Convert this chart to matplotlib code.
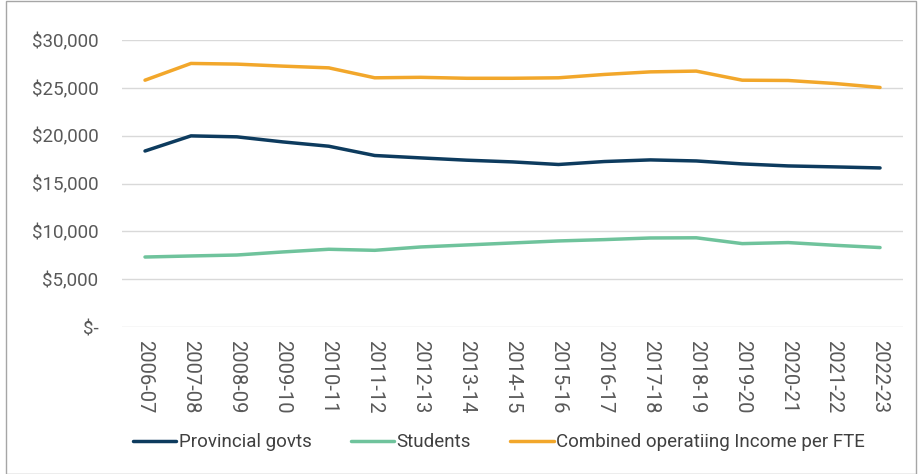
import matplotlib
matplotlib.use("Agg")
import matplotlib.pyplot as plt
from matplotlib.patches import Rectangle
from matplotlib.ticker import FuncFormatter

years = ["2006-07", "2007-08", "2008-09", "2009-10", "2010-11", "2011-12",
         "2012-13", "2013-14", "2014-15", "2015-16", "2016-17", "2017-18",
         "2018-19", "2019-20", "2020-21", "2021-22", "2022-23"]
provincial = [18400, 19980, 19880, 19350, 18900, 17930, 17680, 17440, 17260,
              16990, 17300, 17470, 17360, 17050, 16840, 16740, 16630]
students = [7320, 7430, 7530, 7850, 8130, 8020, 8370, 8580, 8790,
            9000, 9140, 9310, 9330, 8720, 8830, 8550, 8310]
combined = [25800, 27550, 27480, 27270, 27090, 26050, 26100, 26000, 26000,
            26050, 26400, 26670, 26750, 25800, 25770, 25460, 25040]

plt.rcParams["font.family"] = ["Roboto", "DejaVu Sans"]

fig = plt.figure(figsize=(9.19, 4.74), dpi=100)
ax = fig.add_axes([0.1328, 0.310, 0.8498, 0.6056])

x = list(range(len(years)))
ax.plot(x, provincial, color="#0d3b5e", lw=2.5, label="Provincial govts", solid_capstyle="round")
ax.plot(x, students, color="#6fc39c", lw=2.5, label="Students", solid_capstyle="round")
ax.plot(x, combined, color="#f2a72b", lw=2.5, label="Combined operatiing Income per FTE", solid_capstyle="round")

ax.set_xlim(-0.5, len(years) - 0.5)
ax.set_ylim(0, 30000)
ax.set_yticks(range(0, 30001, 5000))
ax.yaxis.set_major_formatter(FuncFormatter(lambda v, p: "$-" if v == 0 else f"${int(v):,}"))
ax.set_xticks(x)
ax.set_xticklabels(years, rotation=270, va="top", ha="center")
ax.grid(axis="y", color="#d9d9d9", lw=1)
ax.set_axisbelow(True)
for s in ax.spines.values():
    s.set_visible(False)
ax.tick_params(axis="both", length=0, colors="#595959")
ax.tick_params(axis="y", pad=17, labelsize=13.5)
ax.tick_params(axis="x", pad=9, labelsize=14.5)

leg = fig.legend(loc="lower left", bbox_to_anchor=(0.126, 0.012), ncol=3, frameon=False,
                 fontsize=13.5, handlelength=2.3, handletextpad=0.15, columnspacing=2.1)
for t in leg.get_texts():
    t.set_color("#404040")

fig.patches.append(Rectangle((0.007, 0.0), 0.99, 0.997, transform=fig.transFigure,
                             fill=False, edgecolor="#a6a6a6", lw=1))
fig.savefig("out.png", dpi=100)
